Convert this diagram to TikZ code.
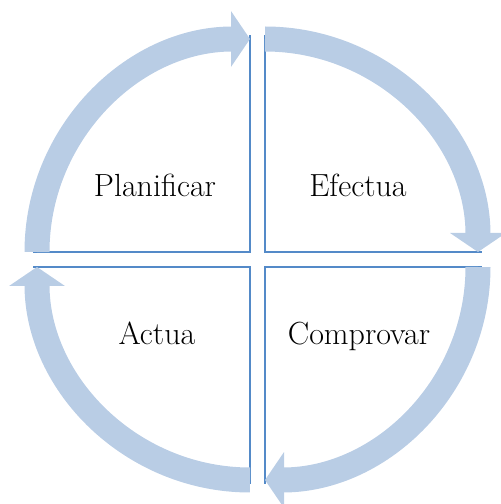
\documentclass[tikz,border=0pt]{standalone}
\usepackage{tikz}
\usetikzlibrary{arrows.meta}
\definecolor{pdcaline}{RGB}{84,138,200}
\definecolor{pdcaband}{RGB}{185,205,229}

\begin{document}
\begin{tikzpicture}[x=1pt, y=1pt,
  edge/.style={draw=pdcaline, line width=2.5pt},
  band/.style={draw=pdcaband, line width=25pt, -{Triangle[length=19pt, width=55pt]}},
  quadtext/.style={font=\fontsize{32}{38}\selectfont, anchor=base}
]
\useasboundingbox (0,0) rectangle (501,504);
\coordinate (tl) at (250,252);
\coordinate (tr) at (265,252);
\coordinate (br) at (265,237);
\coordinate (bl) at (250,237);
\draw[edge] ([xshift=-217pt]tl) -- (tl) -- ([yshift=217pt]tl);
\draw[edge] ([yshift=217pt]tr) -- (tr) -- ([xshift=217pt]tr);
\draw[edge] ([xshift=217pt]br) -- (br) -- ([yshift=-217pt]br);
\draw[edge] ([yshift=-217pt]bl) -- (bl) -- ([xshift=-217pt]bl);
\draw[band] ([xshift=-213pt]tl) arc[start angle=180, end angle=90, radius=213];
\draw[band] ([yshift=213pt]tr) arc[start angle=90, end angle=0, radius=213];
\draw[band] ([xshift=213pt]br) arc[start angle=0, end angle=-90, radius=213];
\draw[band] ([yshift=-213pt]bl) arc[start angle=270, end angle=180, radius=213];
\node[quadtext] (plan) at (155,307) {Planificar};
\node[quadtext] (efec) at (358,307) {Efectua};
\node[quadtext] (comp) at (359,159) {Comprovar};
\node[quadtext] (actu) at (157,159) {Actua};
\end{tikzpicture}
\end{document}
